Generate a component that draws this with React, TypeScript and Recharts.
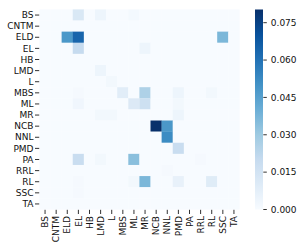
import React from "react";
import { ScatterChart, Scatter, XAxis, YAxis, BarChart, Bar } from "recharts";

const labels = ["BS", "CNTM", "ELD", "EL", "HB", "LMD", "L", "MBS", "ML", "MR", "NCB", "NNL", "PMD", "PA", "RRL", "RL", "SSC", "TA"];

// one row per true label, columns follow `labels`
const rowBS = [0, 0, 0, 0.012, 0, 0.004, 0, 0, 0.0015, 0, 0, 0, 0, 0, 0, 0, 0, 0];
const rowCNTM = [0, 0, 0, 0, 0, 0, 0, 0, 0, 0, 0, 0, 0, 0, 0, 0, 0, 0];
const rowELD = [0, 0, 0.048, 0.064, 0, 0, 0, 0, 0, 0, 0, 0, 0, 0, 0, 0, 0.037, 0];
const rowEL = [0, 0, 0, 0.02, 0, 0, 0, 0, 0, 0.004, 0, 0, 0, 0, 0, 0, 0, 0];
const rowHB = [0, 0, 0, 0, 0, 0, 0, 0, 0, 0, 0, 0, 0, 0, 0, 0, 0, 0];
const rowLMD = [0, 0, 0, 0, 0, 0.004, 0, 0, 0, 0, 0, 0, 0, 0, 0, 0, 0, 0];
const rowL = [0, 0, 0, 0, 0, 0, 0.002, 0, 0, 0, 0, 0, 0, 0, 0, 0, 0, 0];
const rowMBS = [0, 0, 0, 0.001, 0, 0, 0, 0.009, 0, 0.026, 0, 0, 0.004, 0, 0, 0.002, 0, 0];
const rowML = [0, 0, 0, 0.003, 0, 0, 0, 0, 0.011, 0.017, 0, 0, 0.002, 0, 0, 0, 0, 0];
const rowMR = [0, 0, 0, 0, 0, 0.002, 0.002, 0, 0, 0, 0, 0, 0.004, 0, 0, 0, 0, 0];
const rowNCB = [0, 0, 0, 0, 0, 0, 0, 0, 0, 0, 0.0803, 0.048, 0, 0, 0, 0, 0, 0];
const rowNNL = [0, 0, 0, 0, 0, 0, 0, 0, 0, 0, 0, 0.052, 0, 0, 0, 0, 0, 0];
const rowPMD = [0, 0, 0, 0, 0, 0, 0, 0, 0, 0, 0, 0, 0.019, 0, 0, 0, 0, 0];
const rowPA = [0, 0, 0, 0.019, 0, 0.002, 0, 0, 0.034, 0, 0, 0, 0, 0, 0.001, 0, 0, 0];
const rowRRL = [0, 0, 0, 0, 0, 0, 0, 0, 0, 0, 0, 0.001, 0, 0, 0, 0, 0, 0];
const rowRL = [0, 0, 0, 0.001, 0, 0, 0, 0, 0.002, 0.037, 0, 0, 0.006, 0, 0, 0.0095, 0, 0];
const rowSSC = [0, 0, 0, 0.001, 0, 0, 0, 0, 0, 0, 0, 0, 0, 0, 0, 0, 0, 0];
const rowTA = [0, 0, 0, 0, 0, 0, 0, 0, 0, 0, 0, 0, 0, 0, 0, 0, 0, 0];

const rows = [rowBS, rowCNTM, rowELD, rowEL, rowHB, rowLMD, rowL, rowMBS, rowML, rowMR, rowNCB, rowNNL, rowPMD, rowPA, rowRRL, rowRL, rowSSC, rowTA];

const cbTicks = [0, 0.015, 0.03, 0.045, 0.06, 0.075];

const VMAX = Math.max(...rows.map((r) => Math.max(...r)));

// matplotlib "Blues"
const BLUES = ["#f7fbff", "#deebf7", "#c6dbef", "#9ecae1", "#6baed6", "#4292c6", "#2171b5", "#08519c", "#08306b"];

const hex = (c: string) => [1, 3, 5].map((i) => parseInt(c.slice(i, i + 2), 16));

const blues = (t: number) => {
    const s = Math.min(Math.max(t, 0), 1) * (BLUES.length - 1);
    const i = Math.min(Math.floor(s), BLUES.length - 2);
    const f = s - i;
    const a = hex(BLUES[i]);
    const b = hex(BLUES[i + 1]);
    const m = a.map((v, k) => Math.round(v + (b[k] - v) * f));
    return `rgb(${m[0]},${m[1]},${m[2]})`;
};

const cells = rows.flatMap((r, y) => r.map((v, x) => ({ x, y, v })));

const CELL = 200 / labels.length;
const FONT = "DejaVu Sans, Verdana, sans-serif";
const idx = labels.map((_, i) => i);

const HeatCell = (props: any) => {
    const { cx, cy, payload } = props;
    return (
        <rect
            x={cx - CELL / 2 - 0.1}
            y={cy - CELL / 2 - 0.1}
            width={CELL + 0.2}
            height={CELL + 0.2}
            fill={blues(payload.v / VMAX)}
        />
    );
};

const XTick = (props: any) => {
    const { x, y, payload } = props;
    return (
        <g transform={`translate(${x},${y})`}>
            <text transform="rotate(-90)" textAnchor="end" dy="0.35em" fontSize={9} fontFamily={FONT} fill="#111">
                {labels[payload.value]}
            </text>
        </g>
    );
};

const ColorBar = (props: any) => {
    const { x, y, width, height } = props;
    return (
        <g>
            <defs>
                <linearGradient id="cbGrad" x1="0" y1="1" x2="0" y2="0">
                    {BLUES.map((c, i) => (
                        <stop key={i} offset={i / (BLUES.length - 1)} stopColor={c} />
                    ))}
                </linearGradient>
            </defs>
            <rect x={x} y={y} width={width} height={height} fill="url(#cbGrad)" />
        </g>
    );
};

export default function App() {
    return (
        <div style={{ position: "absolute", left: 0, top: 0, width: 304, height: 249, background: "#fff" }}>
            <div style={{ position: "absolute", left: 0, top: 0 }}>
                <ScatterChart width={240} height={249} margin={{ top: 9.5, right: 0.5, left: 0, bottom: 0 }}>
                    <XAxis
                        type="number"
                        dataKey="x"
                        domain={[-0.5, labels.length - 0.5]}
                        ticks={idx}
                        interval={0}
                        height={39.5}
                        axisLine={false}
                        tickSize={4.5}
                        tickMargin={2}
                        tickLine={{ stroke: "#333" }}
                        tick={<XTick />}
                    />
                    <YAxis
                        type="number"
                        dataKey="y"
                        domain={[-0.5, labels.length - 0.5]}
                        reversed
                        ticks={idx}
                        interval={0}
                        width={39.5}
                        axisLine={false}
                        tickSize={4.5}
                        tickMargin={1.5}
                        tickLine={{ stroke: "#333" }}
                        tickFormatter={(v: number) => labels[v]}
                        tick={{ fill: "#111", fontSize: 9, fontFamily: FONT }}
                    />
                    <Scatter data={cells} shape={<HeatCell />} isAnimationActive={false} />
                </ScatterChart>
            </div>
            <div style={{ position: "absolute", left: 240, top: 0 }}>
                <BarChart
                    width={64}
                    height={249}
                    data={[{ name: "cb", v: VMAX }]}
                    margin={{ top: 9.5, right: 0, left: 15, bottom: 39.5 }}
                    barCategoryGap={0}
                >
                    <XAxis dataKey="name" hide />
                    <YAxis
                        orientation="right"
                        type="number"
                        domain={[0, VMAX]}
                        ticks={cbTicks}
                        interval={0}
                        width={40.7}
                        axisLine={false}
                        tickSize={3.5}
                        tickMargin={4}
                        tickLine={{ stroke: "#333" }}
                        tickFormatter={(v: number) => v.toFixed(3)}
                        tick={{ fill: "#111", fontSize: 9, fontFamily: FONT, textAnchor: "start" }}
                    />
                    <Bar dataKey="v" shape={<ColorBar />} isAnimationActive={false} />
                </BarChart>
            </div>
        </div>
    );
}
